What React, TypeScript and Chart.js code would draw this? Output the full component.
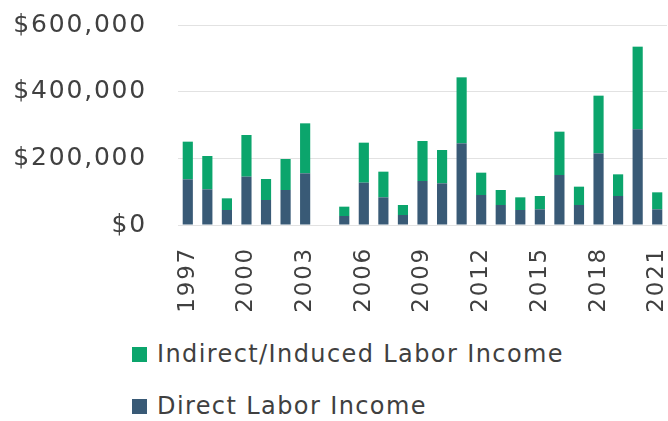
import React, { useEffect, useRef } from "react";
import { Chart, registerables } from "chart.js";

Chart.register(...registerables);

const years: string[] = [
  "1997", "1998", "1999", "2000", "2001", "2002", "2003", "2004", "2005", "2006",
  "2007", "2008", "2009", "2010", "2011", "2012", "2013", "2014", "2015", "2016",
  "2017", "2018", "2019", "2020", "2021",
];

const directLabor: number[] = [
  137000, 107000, 45000, 145000, 75000, 105000, 155000, 0, 27000, 127000,
  83000, 30000, 132000, 125000, 245000, 90000, 60000, 45000, 47000, 150000,
  60000, 215000, 87000, 287000, 47000,
];

const indirectLabor: number[] = [
  113000, 100000, 35000, 125000, 63000, 93000, 150000, 0, 28000, 120000,
  77000, 30000, 120000, 100000, 198000, 67000, 45000, 38000, 40000, 130000,
  55000, 173000, 65000, 248000, 51000,
];

const yTicks: number[] = [0, 200000, 400000, 600000];

const GREEN = "#0ba56c";
const NAVY = "#395a76";
const TEXT = "#404040";
const FONT = "'DejaVu Sans', sans-serif";

const spacingPlugin = {
  id: "letterSpacing",
  beforeDraw(c: any) {
    c.ctx.letterSpacing = "1.8px";
  },
};

export default function App() {
  const ref = useRef<HTMLCanvasElement | null>(null);

  useEffect(() => {
    if (!ref.current) return;
    const chart = new Chart(ref.current, {
      type: "bar",
      data: {
        labels: years,
        datasets: [
          {
            label: "Direct Labor Income",
            data: directLabor,
            backgroundColor: NAVY,
            barPercentage: 0.52,
            categoryPercentage: 1,
          },
          {
            label: "Indirect/Induced Labor Income",
            data: indirectLabor,
            backgroundColor: GREEN,
            barPercentage: 0.52,
            categoryPercentage: 1,
          },
        ],
      },
      plugins: [spacingPlugin],
      options: {
        animation: false,
        responsive: false,
        maintainAspectRatio: false,
        layout: { padding: { top: 25, right: 23, bottom: 0, left: 0 } },
        plugins: {
          legend: { display: false },
          tooltip: { enabled: false },
        },
        scales: {
          x: {
            stacked: true,
            grid: { display: false, drawTicks: false },
            border: { display: false },
            ticks: {
              autoSkip: false,
              minRotation: 90,
              maxRotation: 90,
              padding: 22,
              color: TEXT,
              font: { family: FONT, size: 23 },
              callback: (_v: any, i: number) => (i % 3 === 0 ? years[i] : ""),
            },
            afterFit: (s: any) => {
              s.height = 105;
              s.paddingLeft = 0;
              s.paddingRight = 0;
            },
          },
          y: {
            stacked: true,
            min: 0,
            max: 600000,
            afterBuildTicks: (s: any) => {
              s.ticks = yTicks.map((v) => ({ value: v }));
            },
            grid: { color: "#e2e2e2", drawTicks: false, lineWidth: 1 },
            border: { display: false },
            ticks: {
              padding: 31,
              color: TEXT,
              font: { family: FONT, size: 25 },
              callback: (v: any) => "$" + Number(v).toLocaleString("en-US"),
            },
            afterFit: (s: any) => {
              s.width = 178;
              s.paddingTop = 0;
              s.paddingBottom = 0;
            },
          },
        },
      },
    });
    return () => chart.destroy();
  }, []);

  const legendItem = (color: string, label: string, top: number) => (
    <div
      style={{
        position: "absolute",
        left: 132,
        top,
        display: "flex",
        alignItems: "center",
        fontFamily: FONT,
        fontSize: 24,
        letterSpacing: "1.4px",
        color: TEXT,
        whiteSpace: "nowrap",
      }}
    >
      <span
        style={{
          display: "inline-block",
          width: 15,
          height: 15,
          background: color,
          marginRight: 10,
        }}
      />
      <span>{label}</span>
    </div>
  );

  return (
    <div
      style={{
        position: "absolute",
        left: 0,
        top: 0,
        width: 668,
        height: 421,
        overflow: "hidden",
        background: "#ffffff",
      }}
    >
      <canvas
        ref={ref}
        width={690}
        height={330}
        style={{ position: "absolute", left: 0, top: 0, width: 690, height: 330 }}
      />
      {legendItem(GREEN, "Indirect/Induced Labor Income", 340)}
      {legendItem(NAVY, "Direct Labor Income", 392)}
    </div>
  );
}
